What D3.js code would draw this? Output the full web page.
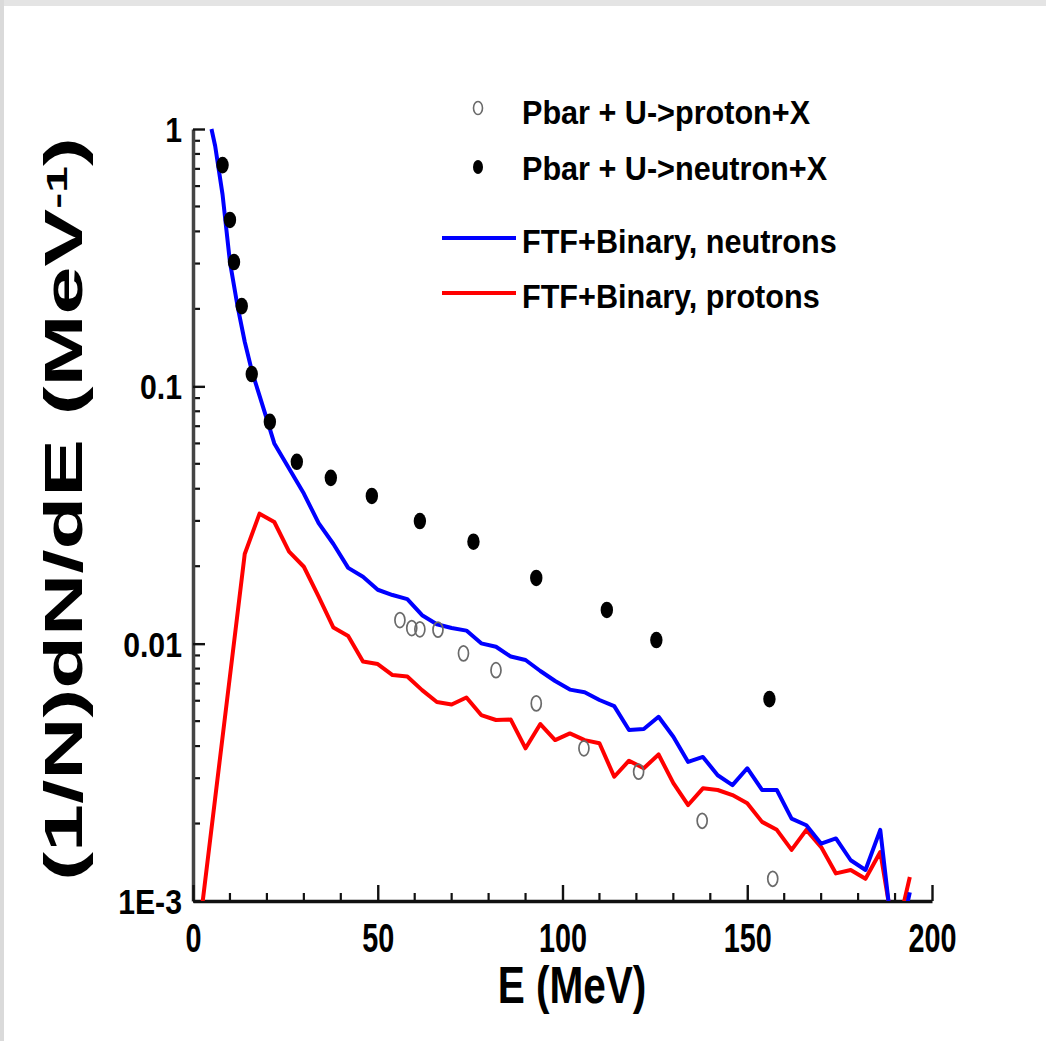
<!DOCTYPE html>
<html><head><meta charset="utf-8">
<script src="https://cdn.jsdelivr.net/npm/d3@7"></script>
<style>
html,body{margin:0;padding:0;background:#fff;}
svg{display:block;}
text{font-family:"Liberation Sans",Arial,Helvetica,sans-serif;fill:#000;}
</style></head>
<body>
<svg id="chart" width="1046" height="1041"></svg>
<script>
// ---- data ----
const xTickValues = [0, 50, 100, 150, 200];
const xTickLabels = ["0", "50", "100", "150", "200"];
const yTickValues = [1, 0.1, 0.01, 0.001];
const yTickLabels = ["1", "0.1", "0.01", "1E-3"];

const legendLabels = ["Pbar + U->proton+X", "Pbar + U->neutron+X", "FTF+Binary, neutrons", "FTF+Binary, protons"];

// experimental: Pbar + U -> proton + X (open circles)
const protonDataE = [56.0, 59.2, 61.4, 66.3, 73.2, 82.0, 92.9, 105.8, 120.6, 137.8, 156.9];
const protonDataV = [0.01235, 0.0115, 0.01137, 0.01133, 0.00917, 0.00789, 0.00586, 0.00392, 0.00318, 0.00205, 0.00122];

// experimental: Pbar + U -> neutron + X (filled circles)
const neutronDataE = [8.0, 10.0, 11.1, 13.2, 15.9, 20.8, 28.1, 37.3, 48.4, 61.4, 75.9, 92.9, 112.0, 125.4, 156.0];
const neutronDataV = [0.724, 0.443, 0.304, 0.205, 0.1116, 0.0728, 0.0509, 0.0441, 0.0375, 0.02996, 0.0249, 0.0180, 0.01352, 0.01033, 0.00609];

// FTF+Binary, neutrons (blue)
const ftfNeutronE = [5, 6, 8, 10, 12, 14, 16, 18, 20, 22, 26, 30, 34, 38, 42, 46, 50, 54, 58, 62, 66, 70, 74, 78, 82, 86, 90, 94, 98, 102, 106, 110, 114, 118, 122, 126, 130, 134, 138, 142, 146, 150, 154, 158, 162, 166, 170, 174, 178, 182, 186, 190, 194];
const ftfNeutronV = [1.0, 0.859, 0.556, 0.304, 0.207, 0.149, 0.1137, 0.092, 0.0744, 0.060,
  0.0479, 0.0383, 0.0294, 0.0244, 0.0197, 0.0182, 0.0162, 0.01545, 0.0149, 0.0129,
  0.0119, 0.0115, 0.01124, 0.01003, 0.00973, 0.00891, 0.00864, 0.00783, 0.00716, 0.00663,
  0.00648, 0.00604, 0.00572, 0.00462, 0.00466, 0.0052, 0.00435, 0.00347, 0.00363, 0.00308,
  0.00282, 0.00328, 0.0027, 0.0027, 0.00209, 0.00197, 0.00167, 0.00175, 0.00144, 0.00132,
  0.00189, 0.0006, 0.00108];

// FTF+Binary, protons (red)
const ftfProtonE = [2, 6, 10, 14, 18, 22, 26, 30, 34, 38, 42, 46, 50, 54, 58, 62, 66, 70, 74, 78, 82, 86, 90, 94, 98, 102, 106, 110, 114, 118, 122, 126, 130, 134, 138, 142, 146, 150, 154, 158, 162, 166, 170, 174, 178, 182, 186, 190, 194];
const ftfProtonV = [0.00084, 0.00251, 0.00748, 0.0223, 0.0320, 0.0297, 0.0228, 0.0199, 0.01524, 0.01155,
  0.01071, 0.00852, 0.00833, 0.00755, 0.00745, 0.0066, 0.00593, 0.0058, 0.00618, 0.00528,
  0.00505, 0.00507, 0.00392, 0.00487, 0.00422, 0.00448, 0.00422, 0.0041, 0.00304, 0.00351,
  0.00328, 0.00371, 0.00287, 0.00236, 0.00274, 0.0027, 0.00258, 0.0024, 0.00203, 0.00189,
  0.00158, 0.00189, 0.00162, 0.00128, 0.00132, 0.00122, 0.00155, 0.0007, 0.00124];

// ---- drawing ----
const svg = d3.select("#chart");
const X0 = 193, X1 = 932, Y0 = 901, Y1 = 129;
const x = d3.scaleLinear().domain([0, 200]).range([X0, X1]);
const y = d3.scaleLog().domain([1e-3, 1]).range([Y0, Y1]);

// page frame
svg.append("rect").attr("x", 0).attr("y", 0).attr("width", 1046).attr("height", 1041).attr("fill", "#fff");
svg.append("rect").attr("x", 0).attr("y", 0).attr("width", 1046).attr("height", 6).attr("fill", "#e4e4e4");
svg.append("rect").attr("x", 0).attr("y", 0).attr("width", 4).attr("height", 1041).attr("fill", "#dadada");

function sText(g, tx, ty, str, size, weight, sx, anchor) {
  return g.append("text")
    .attr("transform", `translate(${tx},${ty}) scale(${sx},1)`)
    .attr("text-anchor", anchor || "start")
    .attr("font-size", size).attr("font-weight", weight)
    .text(str);
}

// minor ticks
const yMinor = [];
[0.001, 0.01, 0.1].forEach(d => { for (let k = 2; k <= 9; k++) yMinor.push(d * k); });
const xMinor = d3.range(10, 200, 10).filter(v => v % 50 !== 0);

const axG = svg.append("g");
axG.selectAll(".ymin").data(yMinor).join("line")
  .attr("x1", X0).attr("x2", X0 + 7).attr("y1", d => y(d)).attr("y2", d => y(d))
  .attr("stroke", "#111").attr("stroke-width", 2.2);
axG.selectAll(".xmin").data(xMinor).join("line")
  .attr("x1", d => x(d)).attr("x2", d => x(d)).attr("y1", Y0).attr("y2", Y0 - 8)
  .attr("stroke", "#111").attr("stroke-width", 2.2);

// y axis
const yAxis = d3.axisLeft(y).tickValues(yTickValues).tickSize(-12).tickSizeOuter(0).tickFormat((d, i) => yTickLabels[i]);
const yG = svg.append("g").attr("transform", `translate(${X0},0)`).call(yAxis);
yG.select(".domain").attr("stroke", "#444").attr("stroke-width", 3.5);
yG.selectAll(".tick line").attr("stroke", "#111").attr("stroke-width", 2.4);
yG.selectAll(".tick text").attr("x", null).attr("dy", "0.35em")
  .attr("transform", "translate(-11,0) scale(0.84,1)")
  .attr("font-size", 36).attr("font-weight", "bold")
  .attr("font-family", "Liberation Sans, Arial, sans-serif").attr("fill", "#000");

// x axis
const xAxis = d3.axisBottom(x).tickValues(xTickValues).tickSize(-16).tickSizeOuter(0).tickFormat((d, i) => xTickLabels[i]);
const xG = svg.append("g").attr("transform", `translate(0,${Y0})`).call(xAxis);
xG.select(".domain").attr("stroke", "#111").attr("stroke-width", 3.5);
xG.selectAll(".tick line").attr("stroke", "#111").attr("stroke-width", 2.4);
xG.selectAll(".tick text").attr("y", null).attr("dy", "0.71em")
  .attr("transform", "translate(0,23) scale(0.72,1)")
  .attr("font-size", 40).attr("font-weight", "bold")
  .attr("font-family", "Liberation Sans, Arial, sans-serif").attr("fill", "#000");

// axis titles
sText(svg, 572, 1003, "E (MeV)", 52, "bold", 0.78, "middle");
const yt = svg.append("text")
  .attr("transform", "translate(82,509) rotate(-90) scale(1.6,1)")
  .attr("text-anchor", "middle").attr("font-size", 54).attr("font-weight", "bold");
yt.append("tspan").text("(1/N)dN/dE (MeV");
yt.append("tspan").attr("dy", "-0.5em").attr("font-size", 30).text("-1");
yt.append("tspan").attr("dy", "0.27em").text(")");

// clipped lines
svg.append("clipPath").attr("id", "plotclip").append("rect")
  .attr("x", X0).attr("y", Y1 - 4).attr("width", X1 - X0 + 3).attr("height", Y0 - Y1 + 4);
const line = d3.line().x(d => x(d[0])).y(d => y(d[1]));
const plotG = svg.append("g").attr("clip-path", "url(#plotclip)");
plotG.append("path").datum(ftfProtonE.map((e, i) => [e, ftfProtonV[i]]))
  .attr("d", line).attr("fill", "none").attr("stroke", "#ff0000").attr("stroke-width", 4).attr("stroke-linejoin", "round");
plotG.append("path").datum(ftfNeutronE.map((e, i) => [e, ftfNeutronV[i]]))
  .attr("d", line).attr("fill", "none").attr("stroke", "#0000ff").attr("stroke-width", 4).attr("stroke-linejoin", "round");

// markers
svg.append("g").selectAll("ellipse").data(protonDataE.map((e, i) => [e, protonDataV[i]])).join("ellipse")
  .attr("cx", d => x(d[0])).attr("cy", d => y(d[1])).attr("rx", 5).attr("ry", 7.5)
  .attr("fill", "none").attr("stroke", "#6a6a6a").attr("stroke-width", 1.7);
svg.append("g").selectAll("ellipse").data(neutronDataE.map((e, i) => [e, neutronDataV[i]])).join("ellipse")
  .attr("cx", d => x(d[0])).attr("cy", d => y(d[1])).attr("rx", 6.2).attr("ry", 8.3)
  .attr("fill", "#000");

// legend
const lg = svg.append("g");
lg.append("ellipse").attr("cx", 478).attr("cy", 108).attr("rx", 4.5).attr("ry", 6.5)
  .attr("fill", "none").attr("stroke", "#6a6a6a").attr("stroke-width", 1.6);
lg.append("ellipse").attr("cx", 478).attr("cy", 167).attr("rx", 5).attr("ry", 7).attr("fill", "#000");
lg.append("line").attr("x1", 442).attr("x2", 516).attr("y1", 238).attr("y2", 238).attr("stroke", "#0000ff").attr("stroke-width", 4);
lg.append("line").attr("x1", 442).attr("x2", 516).attr("y1", 293).attr("y2", 293).attr("stroke", "#ff0000").attr("stroke-width", 4);
sText(lg, 522, 124, legendLabels[0], 34, "bold", 0.9);
sText(lg, 522, 180, legendLabels[1], 34, "bold", 0.9);
sText(lg, 522, 253, legendLabels[2], 34, "bold", 0.9);
sText(lg, 522, 308, legendLabels[3], 34, "bold", 0.9);
</script>
</body></html>
